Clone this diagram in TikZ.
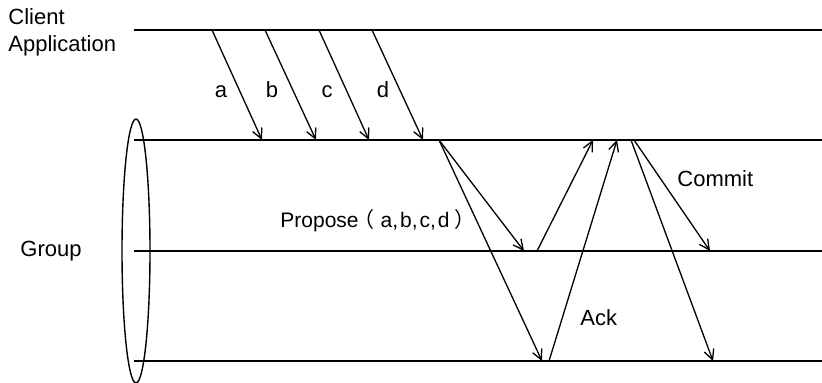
\documentclass[tikz,border=0pt]{standalone}
\usepackage{fontspec}
\setmainfont{Liberation Sans}
\newfontfamily\cjk{Noto Sans CJK SC}
\usetikzlibrary{arrows.meta}
\begin{document}
\begin{tikzpicture}[x=0.5pt,y=-0.5pt,
  lane/.style={line width=0.7pt},
  msg/.style={line width=0.65pt,-{Straight Barb[length=5pt,width=5pt,line width=0.65pt]}},
  lbl/.style={font=\fontsize{11}{13.5}\selectfont, inner sep=0pt},
]
\useasboundingbox (0,0) rectangle (822,383);

% time lines: client on top, three group members below
\coordinate (c0) at (134,30);  \coordinate (c1) at (822,30);
\coordinate (g0) at (134,140); \coordinate (g1) at (822,140);
\coordinate (h0) at (134,251); \coordinate (h1) at (822,251);
\coordinate (k0) at (134,361); \coordinate (k1) at (822,361);
\draw[lane] (c0) -- (c1);
\draw[lane] (g0) -- (g1);
\draw[lane] (h0) -- (h1);
\draw[lane] (k0) -- (k1);

% the group
\draw[lane] (136,251) ellipse [x radius=14, y radius=132];

% labels
\node[lbl, anchor=base west] (client) at (8,25) {Client};
\node[lbl, anchor=base west] (app) at (8,52) {Application};
\node[lbl, anchor=base west] (group) at (20,257) {Group};

% client requests a..d
\coordinate (sa) at (212,30); \coordinate (ta) at (262,140);
\coordinate (sb) at (265,30); \coordinate (tb) at (316,140);
\coordinate (sc) at (319,30); \coordinate (tc) at (369,140);
\coordinate (sd) at (372,30); \coordinate (td) at (423,140);
\draw[msg] (sa) -- (ta);
\draw[msg] (sb) -- (tb);
\draw[msg] (sc) -- (tc);
\draw[msg] (sd) -- (td);
\node[lbl, anchor=base] (la) at (221,98) {a};
\node[lbl, anchor=base] (lb) at (272,98) {b};
\node[lbl, anchor=base] (lc) at (327,98) {c};
\node[lbl, anchor=base] (ld) at (383,98) {d};

% propose
\coordinate (p0) at (439,140);
\coordinate (p1) at (524,251);
\coordinate (p2) at (542,361);
\draw[msg] (p0) -- (p1);
\draw[msg] (p0) -- (p2);
\node[lbl, font=\fontsize{10.5}{13}\selectfont, anchor=base west] (propose) at (280,228)
  {Propose\hspace{-2.5pt}{\cjk （}\hspace{3pt}a,\hspace{1pt}b,\hspace{1pt}c,\hspace{1pt}d\hspace{2.5pt}{\cjk ）}};

% acknowledgements
\coordinate (a1) at (537,251); \coordinate (r1) at (593,140);
\coordinate (a2) at (549,361); \coordinate (r2) at (617,140);
\draw[msg] (a1) -- (r1);
\draw[msg] (a2) -- (r2);
\node[lbl, anchor=base west] (ack) at (580,326) {Ack};

% commit
\coordinate (m1) at (634,140); \coordinate (m2) at (631,140);
\coordinate (e1) at (710,251); \coordinate (e2) at (713,361);
\draw[msg] (m1) -- (e1);
\draw[msg] (m2) -- (e2);
\node[lbl, anchor=base west] (commit) at (677,187) {Commit};
\end{tikzpicture}
\end{document}
